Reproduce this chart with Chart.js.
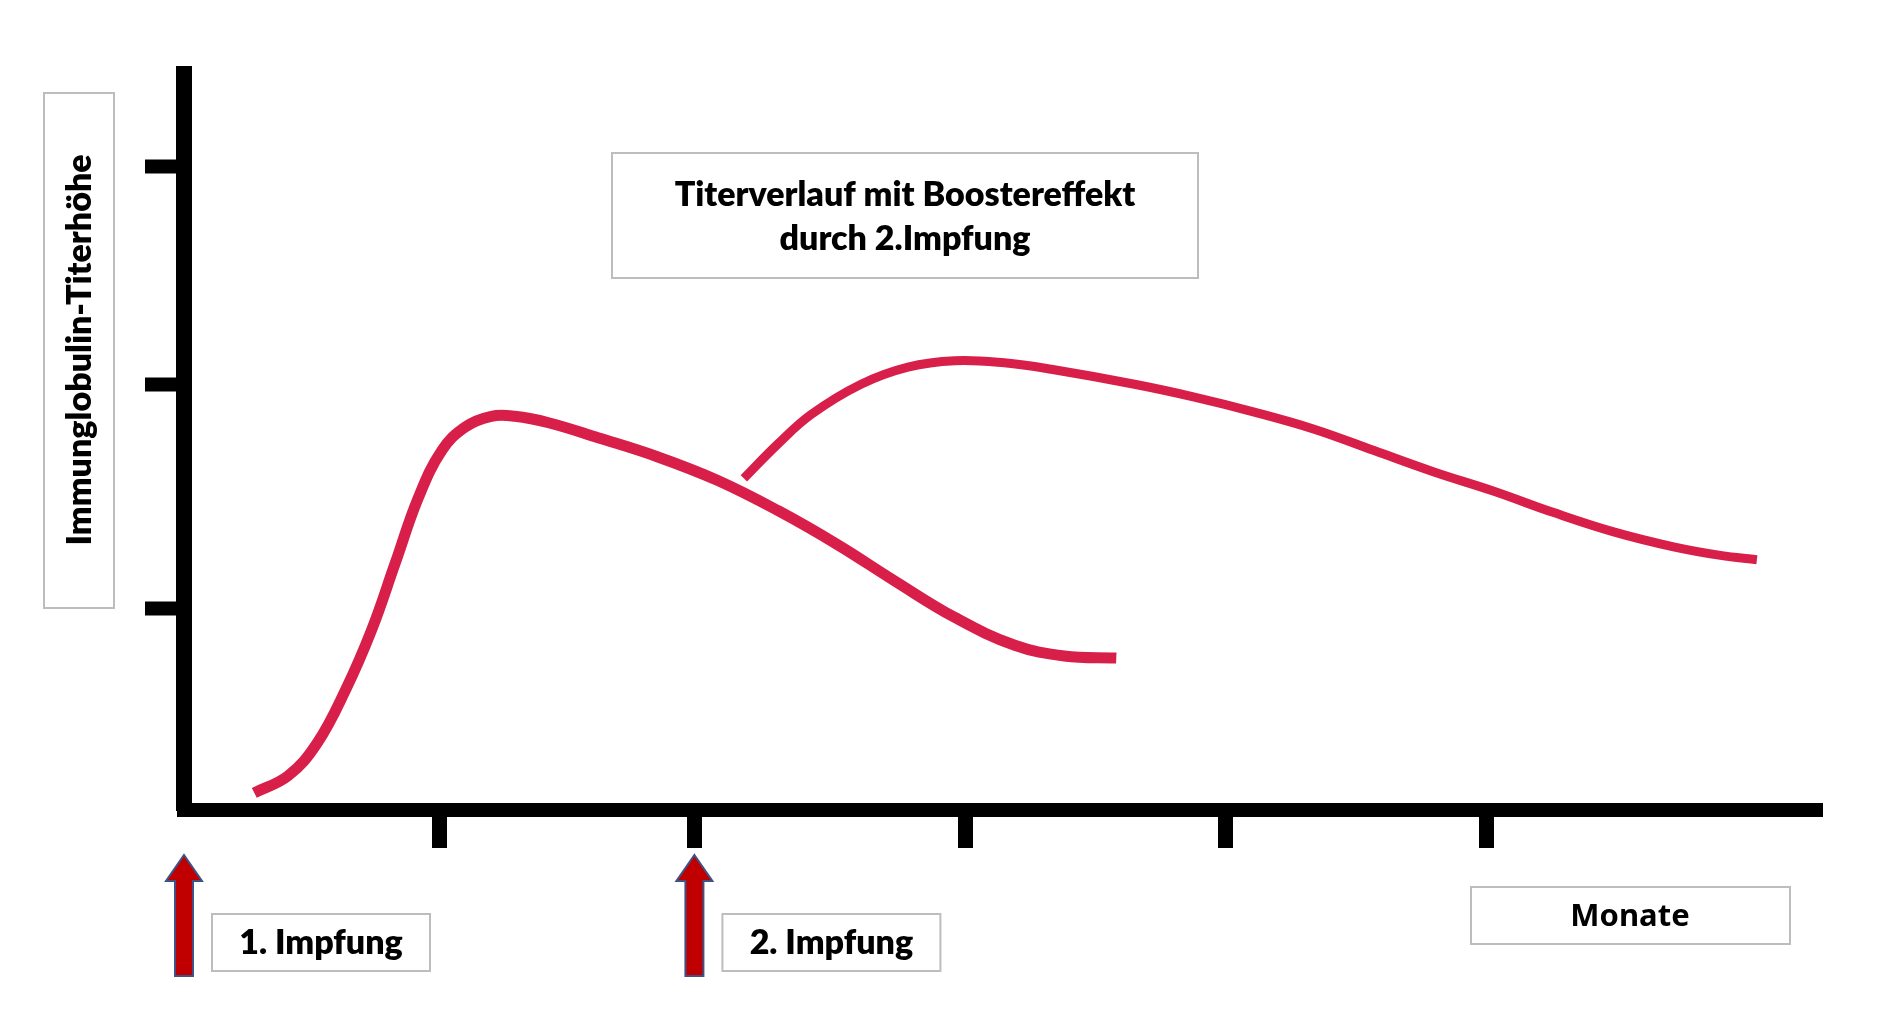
<!DOCTYPE html>
<html lang="de">
<head>
<meta charset="UTF-8">
<title>Titerverlauf mit Boostereffekt</title>
<script src="https://cdn.jsdelivr.net/npm/chart.js"></script>
<style>
  html, body { margin: 0; padding: 0; background: #fff; overflow: hidden; }
  #wrap { width: 1877px; height: 1018px; }
</style>
</head>
<body>
<div id="wrap"><canvas id="titerChart" width="1877" height="1018"></canvas></div>
<script>
// Monate nach der 1. Impfung und Titerhoehe (relative Einheiten)
const primaryMonths = [0.27, 0.40, 0.51, 0.62, 0.72, 0.81, 0.90, 0.99, 1.08, 1.18, 1.27, 1.40, 1.59, 1.82, 2.05, 2.28, 2.51, 2.73, 2.96, 3.19, 3.38, 3.58];
const primaryTiter = [0.08, 0.16, 0.31, 0.56, 0.84, 1.15, 1.46, 1.68, 1.79, 1.84, 1.84, 1.81, 1.74, 1.65, 1.54, 1.40, 1.24, 1.07, 0.90, 0.77, 0.72, 0.71];
const boosterMonths = [2.15, 2.28, 2.41, 2.60, 2.78, 2.96, 3.15, 3.33, 3.65, 3.88, 4.11, 4.34, 4.57, 4.80, 5.03, 5.26, 5.49, 5.72, 5.90, 6.04];
const boosterTiter = [1.55, 1.71, 1.85, 1.99, 2.07, 2.10, 2.09, 2.06, 1.99, 1.93, 1.86, 1.78, 1.68, 1.58, 1.49, 1.39, 1.30, 1.23, 1.19, 1.17];
// Teilstriche sind handgezeichnet und nicht ganz gleichmaessig
const xTicks = [0.98, 1.96, 3.0, 4.0, 5.0];
const yTicks = [0.94, 1.99, 3.01];
const vaccinations = [0, 1.96];
const vaccinationLabels = ['1. Impfung', '2. Impfung'];
const chartTitle = ['Titerverlauf mit Boostereffekt', 'durch 2.Impfung'];
const yLabel = 'Immunglobulin-Titerhöhe';
const xLabel = 'Monate';

const curveColor = '#d81f4a';
const labelFont = '800 34px Lato';
const toPoints = (xs, ys) => xs.map((v, i) => ({ x: v, y: ys[i] }));

function drawBox(ctx, x, y, w, h) {
    ctx.save();
    ctx.fillStyle = '#fff';
    ctx.fillRect(x, y, w, h);
    ctx.strokeStyle = '#bdbdbd';
    ctx.lineWidth = 2;
    ctx.strokeRect(x, y, w, h);
    ctx.restore();
}

function drawText(ctx, text, x, y, font) {
    ctx.save();
    ctx.font = font;
    ctx.fillStyle = '#000';
    ctx.textAlign = 'center';
    ctx.textBaseline = 'middle';
    ctx.fillText(text, x, y);
    ctx.restore();
}

function drawArrow(ctx, cx, tip, bottom) {
    const shaft = 9, head = 18, headH = 26;
    ctx.save();
    ctx.beginPath();
    ctx.moveTo(cx, tip);
    ctx.lineTo(cx + head, tip + headH);
    ctx.lineTo(cx + shaft, tip + headH);
    ctx.lineTo(cx + shaft, bottom);
    ctx.lineTo(cx - shaft, bottom);
    ctx.lineTo(cx - shaft, tip + headH);
    ctx.lineTo(cx - head, tip + headH);
    ctx.closePath();
    ctx.fillStyle = '#c00000';
    ctx.fill();
    ctx.strokeStyle = '#3f5285';
    ctx.lineWidth = 2;
    ctx.stroke();
    ctx.restore();
}

const annotations = {
    id: 'annotations',
    afterDraw(chart) {
        const { ctx, scales: { x } } = chart;

        // Titel im Diagramm
        drawBox(ctx, 612, 153, 586, 125);
        drawText(ctx, chartTitle[0], 905, 195, labelFont);
        drawText(ctx, chartTitle[1], 905, 239, labelFont);

        // y-Achsenbeschriftung
        drawBox(ctx, 44, 93, 70, 515);
        ctx.save();
        ctx.translate(80, 350);
        ctx.rotate(-Math.PI / 2);
        drawText(ctx, yLabel, 0, 0, labelFont);
        ctx.restore();

        // x-Achsenbeschriftung
        drawBox(ctx, 1471, 887, 319, 57);
        drawText(ctx, xLabel, 1630, 917, 'bold 31px "Noto Sans"');

        // Impfzeitpunkte
        vaccinations.forEach((v, i) => {
            const px = x.getPixelForValue(v);
            drawArrow(ctx, px, 855, 976);
            drawBox(ctx, px + 28, 914, 218, 57);
            drawText(ctx, vaccinationLabels[i], px + 28 + 109, 943, labelFont);
        });
    }
};

const ctx = document.getElementById('titerChart').getContext('2d');
new Chart(ctx, {
    type: 'line',
    data: {
        datasets: [
            {
                label: 'Grundimmunisierung',
                data: toPoints(primaryMonths, primaryTiter),
                borderColor: curveColor,
                borderWidth: 11,
                tension: 0.4,
                pointRadius: 0,
                fill: false
            },
            {
                label: 'Booster',
                data: toPoints(boosterMonths, boosterTiter),
                borderColor: curveColor,
                borderWidth: 9,
                tension: 0.4,
                pointRadius: 0,
                fill: false
            }
        ]
    },
    options: {
        responsive: false,
        animation: false,
        layout: {
            padding: { left: 145, top: 74, right: 55, bottom: 171 }
        },
        plugins: {
            legend: { display: false },
            tooltip: { enabled: false }
        },
        scales: {
            x: {
                type: 'linear',
                min: 0,
                max: 6.29,
                afterBuildTicks: (scale) => { scale.ticks = xTicks.map(v => ({ value: v })); },
                afterFit: (scale) => { scale.height = 37; },
                ticks: { display: false },
                grid: {
                    drawOnChartArea: false,
                    tickLength: 38,
                    tickWidth: 15,
                    tickColor: '#000'
                },
                border: { color: '#000', width: 14 }
            },
            y: {
                type: 'linear',
                min: 0,
                max: 3.44,
                afterBuildTicks: (scale) => { scale.ticks = yTicks.map(v => ({ value: v })); },
                afterFit: (scale) => { scale.width = 39; },
                ticks: { display: false },
                grid: {
                    drawOnChartArea: false,
                    tickLength: 39,
                    tickWidth: 14,
                    tickColor: '#000'
                },
                border: { color: '#000', width: 16 }
            }
        }
    },
    plugins: [annotations]
});
</script>
</body>
</html>
